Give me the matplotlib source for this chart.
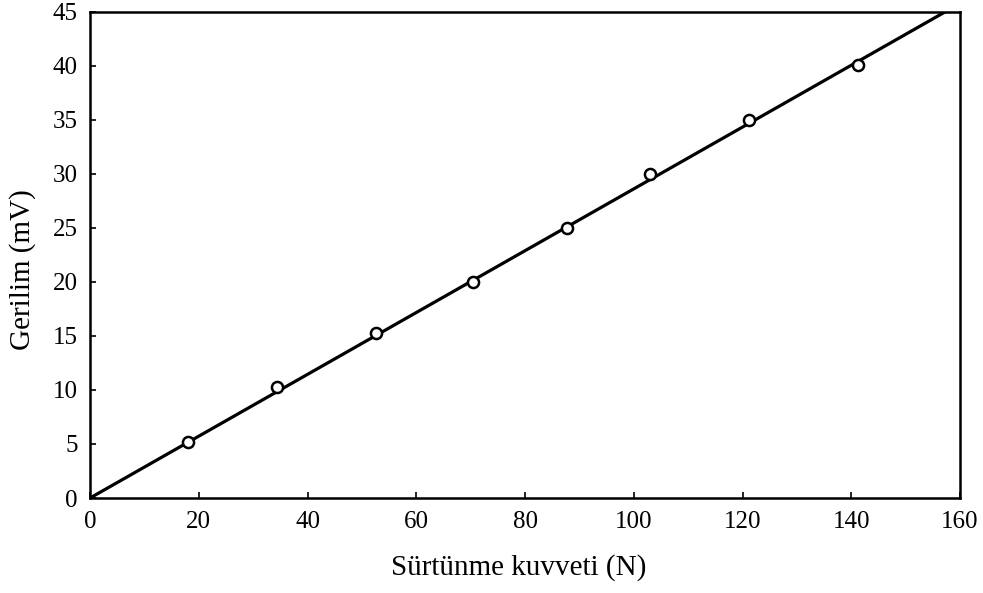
import matplotlib.pyplot as plt
import numpy as np

# measured points
kuvvet = [18.1, 34.4, 52.6, 70.5, 87.8, 102.9, 121.2, 141.2]
gerilim = [5.2, 10.3, 15.3, 20.0, 25.0, 30.0, 35.0, 40.1]

# fitted line through origin
egim = 0.2862
x_fit = [0, 160]

plt.rcParams['font.family'] = ['Liberation Serif', 'DejaVu Serif']

fig = plt.figure(figsize=(9.83, 5.93), dpi=100)
ax = fig.add_axes([0.0916, 0.1602, 0.885, 0.8196])

ax.plot(x_fit, [egim * v for v in x_fit], color='black', linewidth=2.3, zorder=2)
ax.plot(kuvvet, gerilim, linestyle='none', marker='o', markersize=8,
        markerfacecolor='white', markeredgecolor='black', markeredgewidth=1.8, zorder=3)

ax.set_xlim(0, 160)
ax.set_ylim(0, 45)
ax.set_xticks(np.arange(0, 161, 20))
ax.set_yticks(np.arange(0, 46, 5))
ax.tick_params(direction='in', length=4, width=1.2, labelsize=18)
ax.tick_params(axis='x', pad=9)
ax.tick_params(axis='y', pad=9)

for s in ax.spines.values():
    s.set_linewidth(1.8)

ax.set_xlabel('Sürtünme kuvveti (N)', fontsize=21)
ax.set_ylabel('Gerilim (mV)', fontsize=21)
ax.xaxis.set_label_coords(0.493, -0.115)
ax.yaxis.set_label_coords(-0.062, 0.47)

plt.savefig('out.png', dpi=100)
